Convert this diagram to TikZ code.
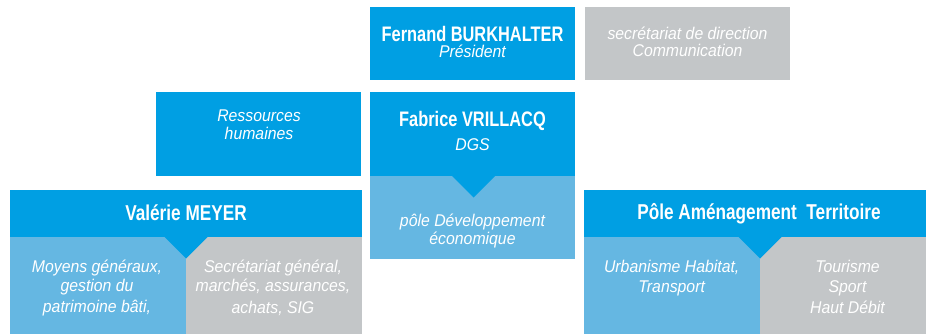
\documentclass[tikz,border=0pt]{standalone}
\usepackage{fontspec}
\setmainfont{Liberation Sans}
\newfontfamily\bfnt{Liberation Sans}[FakeStretch=0.8]
\newfontfamily\bfntn{Liberation Sans}[FakeStretch=0.78]
\newfontfamily\itfnt{Liberation Sans}[FakeStretch=0.93]
\definecolor{dblue}{HTML}{009FE3}
\definecolor{lblue}{HTML}{65B7E2}
\definecolor{lgray}{HTML}{C3C6C8}
\begin{document}
\begin{tikzpicture}[x=1pt,y=-1pt,
  bt/.style={text=white,inner sep=0pt,anchor=base,font=\bfnt\bfseries\fontsize{21.5}{24}\selectfont},
  btn/.style={text=white,inner sep=0pt,anchor=base,font=\bfntn\bfseries\fontsize{21}{24}\selectfont},
  it/.style={text=white,inner sep=0pt,anchor=base,font=\itfnt\itshape\fontsize{17}{20}\selectfont}]
\useasboundingbox (0,0) rectangle (926,334);
% boxes
\fill[dblue] (370,7) rectangle (575,80);
\fill[lgray] (585,7) rectangle (790,80);
\fill[dblue] (156,92) rectangle (361,176);
\fill[dblue] (370,92) rectangle (575,176);
\fill[lblue] (370,176) rectangle (575,259);
\fill[dblue] (452,176) -- (495,176) -- (473.5,197.5) -- cycle;
% Valerie
\fill[dblue] (10,190) rectangle (362,237);
\fill[lblue] (10,237) rectangle (186,334);
\fill[lgray] (186,237) rectangle (362,334);
\fill[dblue] (164.5,237) -- (207.5,237) -- (186,258.5) -- cycle;
% Pole
\fill[dblue] (584,190) rectangle (926,237);
\fill[lblue] (584,237) rectangle (760,334);
\fill[lgray] (760,237) rectangle (926,334);
\fill[dblue] (738.5,237) -- (781.5,237) -- (760,258.5) -- cycle;
% texts
\node[btn] (pres1) at (472.5,41.5) {Fernand BURKHALTER};
\node[it] (pres2) at (472.5,58) {Président};
\node[it] (sec1) at (687.5,39.5) {secrétariat de direction};
\node[it] (sec2) at (687.5,57) {Communication};
\node[it] (rh1) at (259,121.5) {Ressources};
\node[it] (rh2) at (259,139.5) {humaines};
\node[btn] (dgs1) at (472.5,126.7) {Fabrice VRILLACQ};
\node[it] (dgs2) at (472.5,150.7) {DGS};
\node[it] (dev1) at (472.5,226.7) {pôle Développement};
\node[it] (dev2) at (472.5,244) {économique};
\node[bt] (vm) at (186,220) {Valérie MEYER};
\node[it] (mg1) at (97,272.3) {Moyens généraux,};
\node[it] (mg2) at (97,291.7) {gestion du};
\node[it] (mg3) at (97,312.7) {patrimoine bâti,};
\node[it] (sg1) at (273,272.3) {Secrétariat général,};
\node[it] (sg2) at (273,291.7) {marchés, assurances,};
\node[it] (sg3) at (273,313) {achats, SIG};
\node[bt] (pat) at (759,219.3) {Pôle Aménagement\ \ Territoire};
\node[it] (ur1) at (671.7,272.3) {Urbanisme Habitat,};
\node[it] (ur2) at (671.7,292.3) {Transport};
\node[it] (to1) at (847.5,272.3) {Tourisme};
\node[it] (to2) at (847.5,292.3) {Sport};
\node[it] (to3) at (847.5,313.3) {Haut Débit};
\end{tikzpicture}
\end{document}
